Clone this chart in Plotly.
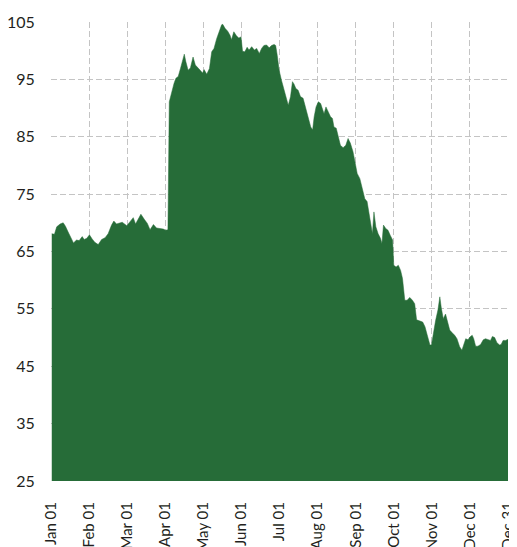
import plotly.graph_objects as go

# x position measured in months since Jan 01 (axis ticks evenly spaced by month)
month_pos = [
    0.02, 0.09, 0.15, 0.24, 0.32, 0.38, 0.45, 0.54, 0.59, 0.67, 0.74, 0.82, 0.87, 0.94,
    1.01, 1.08, 1.15, 1.24, 1.33, 1.42, 1.50, 1.59, 1.65, 1.72, 1.81, 1.87, 1.99,
    2.07, 2.16, 2.22, 2.29, 2.36, 2.45, 2.53, 2.60, 2.69, 2.77, 2.86, 2.95,
    3.01, 3.07, 3.106, 3.17, 3.23, 3.28, 3.34, 3.40, 3.46, 3.50, 3.54, 3.60, 3.66, 3.73,
    3.79, 3.87, 3.93, 3.98, 4.02, 4.09, 4.16, 4.22, 4.28, 4.35, 4.42, 4.48, 4.51, 4.57,
    4.64, 4.70, 4.74, 4.80, 4.87, 4.93, 4.99, 5.03, 5.09, 5.15, 5.20, 5.27, 5.34, 5.40,
    5.47, 5.53, 5.59, 5.66, 5.73, 5.79, 5.86, 5.90, 5.94, 5.99, 6.05, 6.12, 6.17, 6.23,
    6.29, 6.34, 6.38, 6.43, 6.49, 6.55, 6.62, 6.69, 6.76, 6.82, 6.87, 6.91, 6.96,
    7.02, 7.08, 7.13, 7.17, 7.22, 7.28, 7.34, 7.39, 7.43, 7.49, 7.54, 7.60, 7.67,
    7.74, 7.80, 7.86, 7.93, 7.98, 8.04, 8.11, 8.18, 8.24, 8.30, 8.35, 8.40, 8.44,
    8.48, 8.53, 8.59, 8.65, 8.69, 8.73, 8.79, 8.85, 8.91, 8.97, 9.00, 9.06, 9.12,
    9.18, 9.23, 9.29, 9.35, 9.42, 9.49, 9.55, 9.60, 9.67, 9.76, 9.82, 9.88, 9.95,
    9.99, 10.03, 10.10, 10.16, 10.21, 10.25, 10.30, 10.36, 10.41, 10.47, 10.54,
    10.60, 10.66, 10.73, 10.79, 10.84, 10.89, 10.95, 11.00, 11.06, 11.10, 11.15,
    11.21, 11.28, 11.35, 11.41, 11.48, 11.54, 11.59, 11.65, 11.71, 11.78, 11.82,
    11.87, 11.94, 12.0,
]

values = [
    68.1, 68.0, 69.3, 69.8, 70.0, 69.4, 68.4, 67.1, 66.5, 67.0, 66.9, 67.6, 67.1, 67.3,
    67.9, 67.2, 66.6, 66.2, 67.1, 67.4, 68.1, 69.6, 70.3, 69.8, 70.0, 70.1, 69.5,
    70.2, 70.9, 69.8, 70.7, 71.5, 70.6, 69.9, 68.8, 69.7, 69.1, 69.0, 68.9,
    68.7, 68.8, 91.1, 92.9, 94.3, 95.2, 95.5, 96.9, 98.4, 99.4, 98.1, 96.6, 97.0, 98.9,
    97.5, 97.0, 96.5, 96.1, 96.7, 95.9, 96.9, 99.8, 100.4, 102.1, 103.3, 104.5, 104.6, 103.9,
    103.4, 102.7, 101.9, 103.3, 102.6, 102.2, 102.4, 99.9, 99.8, 100.6, 100.1, 100.7, 100.1, 100.4,
    99.5, 100.4, 100.9, 101.0, 100.5, 100.9, 101.1, 100.9, 99.2, 96.6, 94.9, 93.1, 91.7, 90.5,
    92.0, 94.6, 94.2, 93.4, 93.1, 92.0, 91.7, 89.9, 88.5, 86.7, 86.2, 88.5, 90.2,
    91.1, 90.8, 89.9, 89.0, 90.2, 89.4, 88.5, 88.2, 86.7, 86.5, 85.0, 83.5, 83.1,
    83.5, 84.7, 83.9, 82.4, 80.9, 78.6, 77.7, 75.7, 74.2, 73.7, 71.9, 69.9, 68.1,
    71.9, 69.3, 68.1, 67.3, 66.4, 69.6, 69.0, 68.7, 67.8, 67.0, 62.6, 62.3, 62.6,
    61.7, 60.3, 56.5, 56.5, 57.0, 56.5, 55.9, 53.1, 52.9, 52.7, 51.9, 50.4, 48.7,
    48.7, 50.4, 53.0, 54.8, 57.1, 55.1, 53.3, 54.1, 53.0, 51.3, 50.8,
    50.4, 49.8, 48.4, 47.8, 48.7, 49.8, 49.6, 50.1, 50.4, 49.8, 48.5,
    48.5, 48.8, 49.6, 49.8, 49.6, 49.5, 50.2, 50.0, 49.1, 48.7, 48.8,
    49.5, 49.5, 49.7,
]

tick_positions = list(range(13))
tick_labels = ["Jan 01", "Feb 01", "Mar 01", "Apr 01", "May 01", "Jun 01", "Jul 01",
               "Aug 01", "Sep 01", "Oct 01", "Nov 01", "Dec 01", "Dec 31"]
y_ticks = [25, 35, 45, 55, 65, 75, 85, 95, 105]

GREEN = "#266c38"
GRID = "#c4c4c4"

fig = go.Figure()
fig.add_trace(go.Scatter(
    x=month_pos, y=values, mode="lines",
    line=dict(color=GREEN, width=0.5),
    fill="tozeroy", fillcolor=GREEN,
    hoverinfo="skip", showlegend=False,
))

# the page body has an 8px margin, so the figure is offset by 8px
fig.update_layout(
    width=517, height=547,
    margin=dict(l=43, r=17, t=14, b=74),
    paper_bgcolor="white", plot_bgcolor="white",
    font=dict(family="Lato, 'Noto Sans', sans-serif", size=15, color="#231f20"),
    xaxis=dict(
        range=[0, 12], tickmode="array", tickvals=tick_positions, ticktext=tick_labels,
        tickangle=-90, showgrid=True, gridcolor=GRID, griddash="6px,3px", gridwidth=1.3,
        zeroline=False, showline=False, ticks="outside", ticklen=14, tickcolor="rgba(0,0,0,0)",
        tickfont=dict(size=15), automargin=False,
    ),
    yaxis=dict(
        range=[25, 105], tickmode="array", tickvals=y_ticks,
        showgrid=True, gridcolor=GRID, griddash="6px,3px", gridwidth=1.3,
        zeroline=False, showline=False, ticks="outside", ticklen=12, tickcolor="rgba(0,0,0,0)",
        tickfont=dict(size=16), automargin=False,
    ),
)

fig.write_html("out.html")
